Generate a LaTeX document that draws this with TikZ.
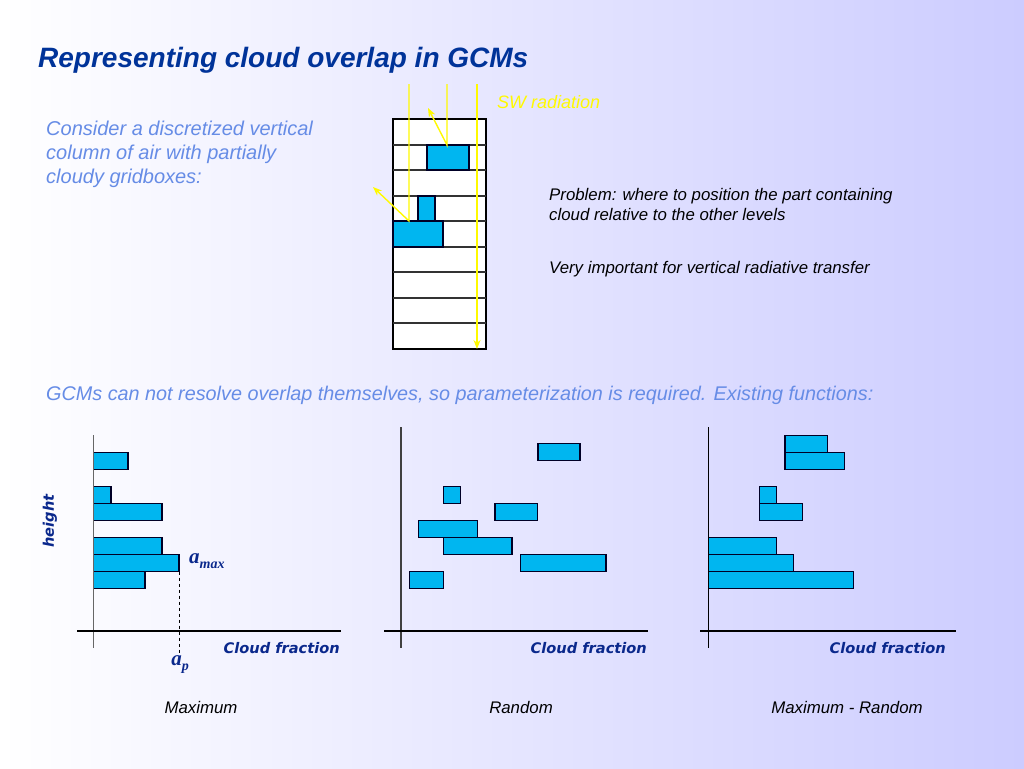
\documentclass[tikz,border=0pt]{standalone}
\usepackage{fontspec}
\setmainfont{Liberation Sans}
\newfontfamily\comicfont{DejaVu Sans}
\newfontfamily\serifit{Liberation Serif}
\usetikzlibrary{arrows.meta}
\definecolor{titleblue}{RGB}{0,51,153}
\definecolor{lightblue}{RGB}{102,140,230}
\definecolor{navy}{RGB}{10,40,140}
\definecolor{cloudblue}{RGB}{0,182,240}
\definecolor{bgright}{RGB}{204,204,255}
\definecolor{ray}{RGB}{255,250,0}
\tikzset{
  cloudbar/.style={draw=black!85!blue, fill=cloudblue, line width=1.3pt},
  cell/.style={draw=black, fill=white, line width=1.2pt},
  axis/.style={draw=black, line width=1.3pt},
  rayline/.style={draw=ray, line width=1.4pt},
  raytip/.style={-{Stealth[length=9pt,width=7pt]}},
  cftext/.style={font=\comicfont\bfseries\itshape\fontsize{14.6}{16}\selectfont, text=navy, inner sep=0pt},
  captext/.style={font=\itshape\fontsize{16.8}{20}\selectfont, text=black, inner sep=0pt},
  symtext/.style={font=\serifit\bfseries\itshape\fontsize{21}{22}\selectfont, text=navy, inner sep=0pt},
}
\newcommand{\subtxt}[1]{\raisebox{-0.28em}{\fontsize{14}{15}\selectfont #1}}
\begin{document}
\begin{tikzpicture}[x=1pt,y=-1pt]
\useasboundingbox (0,0) rectangle (1024,768);
\shade[left color=white, right color=bgright] (0,0) rectangle (1024,768);
% title
\node[anchor=base west, inner sep=0pt, text=titleblue, font=\bfseries\itshape\fontsize{28}{34}\selectfont] (title) at (38,67) {Representing cloud overlap in GCMs};
% left text
\node[anchor=north west, inner sep=0pt, align=left, text=lightblue, font=\itshape\fontsize{20}{24}\selectfont] (intro) at (46,121) {Consider a discretized vertical\\column of air with partially\\cloudy gridboxes:};
% column
\draw[cell] (393,119) rectangle (486,349);
\foreach \yy in {145,170,196,221,247,272,298,323}{
  \draw[black!80, line width=1.2pt] (393,\yy) -- (486,\yy);
}
\draw[cloudbar] (427,145) rectangle (469,170);
\draw[cloudbar] (418,196) rectangle (435,221);
\draw[cloudbar] (393,221) rectangle (443,247);
% radiation
\coordinate (r1top) at (409,84);
\coordinate (r1hit) at (409,221);
\coordinate (r1out) at (373,187);
\coordinate (r2top) at (447,84);
\coordinate (r2hit) at (447,145);
\coordinate (r2out) at (428,108);
\coordinate (r3top) at (477,84);
\coordinate (r3end) at (477,349);
\draw[rayline, raytip] (r1top) -- (r1hit) -- (r1out);
\draw[rayline, raytip] (r2top) -- (r2hit) -- (r2out);
\draw[rayline, raytip] (r3top) -- (r3end);
\node[anchor=base west, inner sep=0pt, text=ray, font=\itshape\fontsize{18}{20}\selectfont] (sw) at (497,108) {SW radiation};
% right text
\node[anchor=north west, inner sep=0pt, align=left, font=\itshape\fontsize{16.8}{20}\selectfont] (problem) at (549,188) {Problem: where to position the part containing\\cloud relative to the other levels};
\node[anchor=base west, inner sep=0pt, font=\itshape\fontsize{16.8}{20}\selectfont] (important) at (549,273) {Very important for vertical radiative transfer};
% GCMs line
\node[anchor=base west, inner sep=0pt, text=lightblue, font=\itshape\fontsize{19.8}{24}\selectfont] (gcms) at (46,400) {GCMs can not resolve overlap themselves, so parameterization is required. Existing functions:};
% ---- plot 1: Maximum
\draw[cloudbar] (93.5,452.5) rectangle (128,469.5);
\draw[cloudbar] (93.5,486.5) rectangle (111,503.5);
\draw[cloudbar] (93.5,503.5) rectangle (162,520.5);
\draw[cloudbar] (93.5,537.5) rectangle (162,554.5);
\draw[cloudbar] (93.5,554.5) rectangle (179,571.5);
\draw[cloudbar] (93.5,571.5) rectangle (145,588.5);
\draw[axis, draw=black!60] (93.5,435) -- (93.5,648);
\draw[axis] (77,631) -- (341,631);
\draw[dashed, line width=0.9pt] (179,571.5) -- (179,655);
\node[symtext, anchor=base west] (amax) at (189,563) {a\subtxt{max}};
\node[symtext, anchor=base] (ap) at (180,665) {a\subtxt{p}};
\node[cftext, rotate=90] (height) at (50,521) {height};
\node[cftext, anchor=base east] (cf1) at (340,653) {Cloud fraction};
\node[captext, anchor=base] (cap1) at (201,713) {Maximum};
% ---- plot 2: Random
\draw[cloudbar] (538,443.5) rectangle (580,460.5);
\draw[cloudbar] (443.5,486.5) rectangle (460.5,503.5);
\draw[cloudbar] (495,503.5) rectangle (537.5,520.5);
\draw[cloudbar] (418.5,520.5) rectangle (477.5,537.5);
\draw[cloudbar] (443.5,537.5) rectangle (512,554.5);
\draw[cloudbar] (520.5,554.5) rectangle (606,571.5);
\draw[cloudbar] (409.5,571.5) rectangle (443.5,588.5);
\draw[axis, draw=black!75] (401,427) -- (401,648);
\draw[axis] (384,631) -- (648,631);
\node[cftext, anchor=base east] (cf2) at (647,653) {Cloud fraction};
\node[captext, anchor=base] (cap2) at (521,713) {Random};
% ---- plot 3: Maximum - Random
\draw[cloudbar] (785,435.5) rectangle (827.5,452.5);
\draw[cloudbar] (785,452.5) rectangle (844.5,469.5);
\draw[cloudbar] (759.5,486.5) rectangle (776.5,503.5);
\draw[cloudbar] (759.5,503.5) rectangle (802.5,520.5);
\draw[cloudbar] (708.5,537.5) rectangle (776.5,554.5);
\draw[cloudbar] (708.5,554.5) rectangle (793.5,571.5);
\draw[cloudbar] (708.5,571.5) rectangle (853.5,588.5);
\draw[axis] (708.5,427) -- (708.5,648);
\draw[axis] (700,631) -- (956,631);
\node[cftext, anchor=base east] (cf3) at (946,653) {Cloud fraction};
\node[captext, anchor=base] (cap3) at (847,713) {Maximum - Random};
\end{tikzpicture}
\end{document}
